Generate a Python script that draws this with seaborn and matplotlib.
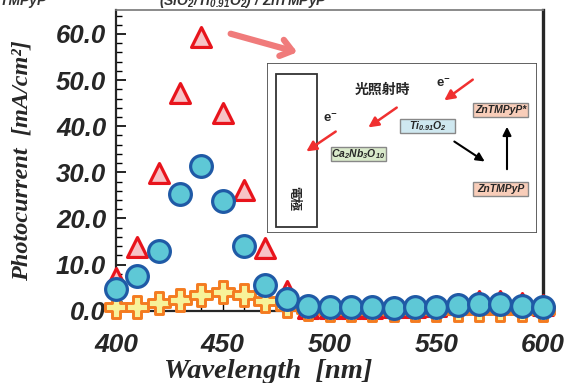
import numpy as np
import pandas as pd
import seaborn as sns
import matplotlib.pyplot as plt
from matplotlib.patches import Rectangle, FancyArrowPatch
from matplotlib.ticker import MultipleLocator

wavelength = [400, 410, 420, 430, 440, 450, 460, 470, 480, 490, 500, 510, 520,
              530, 540, 550, 560, 570, 580, 590, 600]
# triangles
tri_vals = [7.0, 13.9, 29.9, 47.3, 59.4, 42.8, 26.2, 13.5, 4.3, 0.6, 0.5, 0.5, 0.6,
            0.7, 0.8, 1.0, 1.5, 2.0, 2.0, 1.6, 1.2]
# circles
circ_vals = [4.7, 7.6, 12.9, 25.2, 31.3, 23.8, 14.1, 5.6, 2.5, 1.1, 0.7, 0.7, 0.7,
             0.6, 0.7, 0.9, 1.3, 1.4, 1.4, 1.0, 0.8]
# crosses
cross_vals = [0.8, 0.9, 1.6, 2.3, 3.5, 4.0, 3.3, 2.2, 1.1, 0.3, 0.2, 0.2, 0.2,
              0.2, 0.2, 0.2, 0.2, 0.2, 0.2, 0.2, 0.2]

yticks = [0, 10, 20, 30, 40, 50, 60]
xticks = [400, 450, 500, 550, 600]

df = pd.DataFrame({'wl': wavelength, 'tri': tri_vals, 'circ': circ_vals, 'cross': cross_vals})

sns.set_style('ticks')
plt.rcParams['font.family'] = ['Liberation Sans', 'Noto Sans CJK JP', 'DejaVu Sans']
plt.rcParams['mathtext.fontset'] = 'custom'
plt.rcParams['mathtext.rm'] = 'Liberation Sans:bold:italic'
plt.rcParams['mathtext.it'] = 'Liberation Sans:bold:italic'
plt.rcParams['mathtext.bf'] = 'Liberation Sans:bold:italic'

fig = plt.figure(figsize=(5.69, 3.83), dpi=100)
ax = fig.add_axes([116 / 569, 1 - 310.7 / 383, 427 / 569, 300.7 / 383])

sns.scatterplot(data=df, x='wl', y='tri', ax=ax, marker='^', s=205, color='#f7c3c6',
                edgecolor='#e8141c', linewidth=2.3, clip_on=False, zorder=3, legend=False)
sns.scatterplot(data=df, x='wl', y='cross', ax=ax, marker='P', s=250, color='#f7f29a',
                edgecolor='#f47b20', linewidth=2.1, clip_on=False, zorder=4, legend=False)
sns.scatterplot(data=df, x='wl', y='circ', ax=ax, marker='o', s=245, color='#5ec8d6',
                edgecolor='#1f5aa6', linewidth=2.3, clip_on=False, zorder=5, legend=False)

ax.set_xlim(400, 600)
ax.set_ylim(0, 65.2)
ax.set_xticks(xticks)
ax.set_yticks(yticks)
ax.set_yticklabels([f'{v:.1f}' for v in yticks])
ax.xaxis.set_minor_locator(MultipleLocator(10))
ax.yaxis.set_minor_locator(MultipleLocator(2))
ax.tick_params(axis='both', which='both', direction='in', color='black')
ax.tick_params(axis='y', which='major', length=7, width=1.2, pad=7, labelsize=18.5)
ax.tick_params(axis='y', which='minor', length=4, width=1.0)
ax.tick_params(axis='x', which='major', length=6, width=1.0, pad=16, labelsize=19)
ax.tick_params(axis='x', which='minor', length=4, width=1.0)
for lab in ax.get_xticklabels() + ax.get_yticklabels():
    lab.set_fontweight('bold')
    lab.set_fontstyle('italic')

ax.spines['left'].set_linewidth(1.6)
ax.spines['bottom'].set_linewidth(1.6)
ax.spines['right'].set_linewidth(2.4)
ax.spines['top'].set_linewidth(1.2)
ax.spines['top'].set_color('#777777')

serif = ['Liberation Serif', 'DejaVu Serif']
ax.set_xlabel('Wavelength  [nm]', family=serif, fontsize=20.5, fontweight='bold', fontstyle='italic')
ax.set_ylabel('Photocurrent  [mA/cm²]', family=serif, fontsize=17.5, fontweight='bold', fontstyle='italic')
ax.xaxis.set_label_coords((268.5 - 116) / 427, -(371 - 310.7) / 300.7)
ax.xaxis.label.set_va('center')
ax.yaxis.set_label_coords((22 - 116) / 427, 0.498)
ax.yaxis.label.set_va('center')

# titles cut at top of the picture, as in the source
fig.text(243 / 569, 1 - 5 / 383, '(SiO$_2$/Ti$_{0.91}$O$_2$) / ZnTMPyP', ha='center', va='baseline',
         fontsize=10, fontweight='bold', fontstyle='italic', color='#333333')
fig.text(47 / 569, 1 - 5 / 383, 'ZnTMPyP', ha='right', va='baseline',
         fontsize=10, fontweight='bold', fontstyle='italic', color='#333333')

# big pink arrow
fig.patches.append(FancyArrowPatch(
    (228 / 569, 1 - 33 / 383), (300 / 569, 1 - 53 / 383), transform=fig.transFigure,
    arrowstyle='->,head_length=8,head_width=6', color='#f07b7b', lw=4.5, mutation_scale=1))

# inset scheme, in pixel coordinates of the inset box
ins = fig.add_axes([267 / 569, 1 - 233 / 383, 270 / 569, 170 / 383])
ins.set_xlim(0, 270)
ins.set_ylim(170, 0)
ins.axis('off')
ins.add_patch(Rectangle((0, 0), 270, 170, fill=True, facecolor='white', edgecolor='#555555', lw=1.3))
ins.add_patch(Rectangle((9, 11), 41, 153, fill=False, edgecolor='#333333', lw=1.3))
ins.text(27, 135, '電極', rotation=-90, ha='center', va='center', fontsize=9,
         fontweight='bold', family=['Noto Sans CJK JP'])
ins.text(115, 27, '光照射時', ha='center', va='center', fontsize=10, fontweight='bold',
         family=['Noto Sans CJK JP'], fontstyle='italic')
ins.text(176, 20, 'e$^{-}$', ha='center', va='center', fontsize=9.5, fontweight='bold')
ins.text(63, 55, 'e$^{-}$', ha='center', va='center', fontsize=9.5, fontweight='bold')

boxes = [((133, 56), 'Ti$_{0.91}$O$_2$', '#cfe8f0'),
         ((64, 84), 'Ca$_2$Nb$_3$O$_{10}$', '#d9eacb'),
         ((206, 40), 'ZnTMPyP*', '#f8cdb9'),
         ((206, 119), 'ZnTMPyP', '#f8cdb9')]
for (bx, by), label, fc in boxes:
    ins.add_patch(Rectangle((bx, by), 55, 14, facecolor=fc, edgecolor='#888888', lw=1.0))
    ins.text(bx + 27.5, by + 7, label, ha='center', va='center', fontsize=7.5,
             fontweight='bold', fontstyle='italic')

red_arrows = [((208, 15), (175, 39)), ((132, 43), (99, 66)), ((71, 67), (37, 90))]
for start, end in red_arrows:
    ins.annotate('', xy=end, xytext=start,
                 arrowprops=dict(arrowstyle='-|>,head_length=0.6,head_width=0.3', color='#f03030', lw=1.8))
black_arrows = [((185, 77), (220, 100)), ((240, 109), (240, 61))]
for start, end in black_arrows:
    ins.annotate('', xy=end, xytext=start,
                 arrowprops=dict(arrowstyle='-|>,head_length=0.5,head_width=0.25', color='black', lw=1.5))

fig.savefig('out.png', dpi=100)
